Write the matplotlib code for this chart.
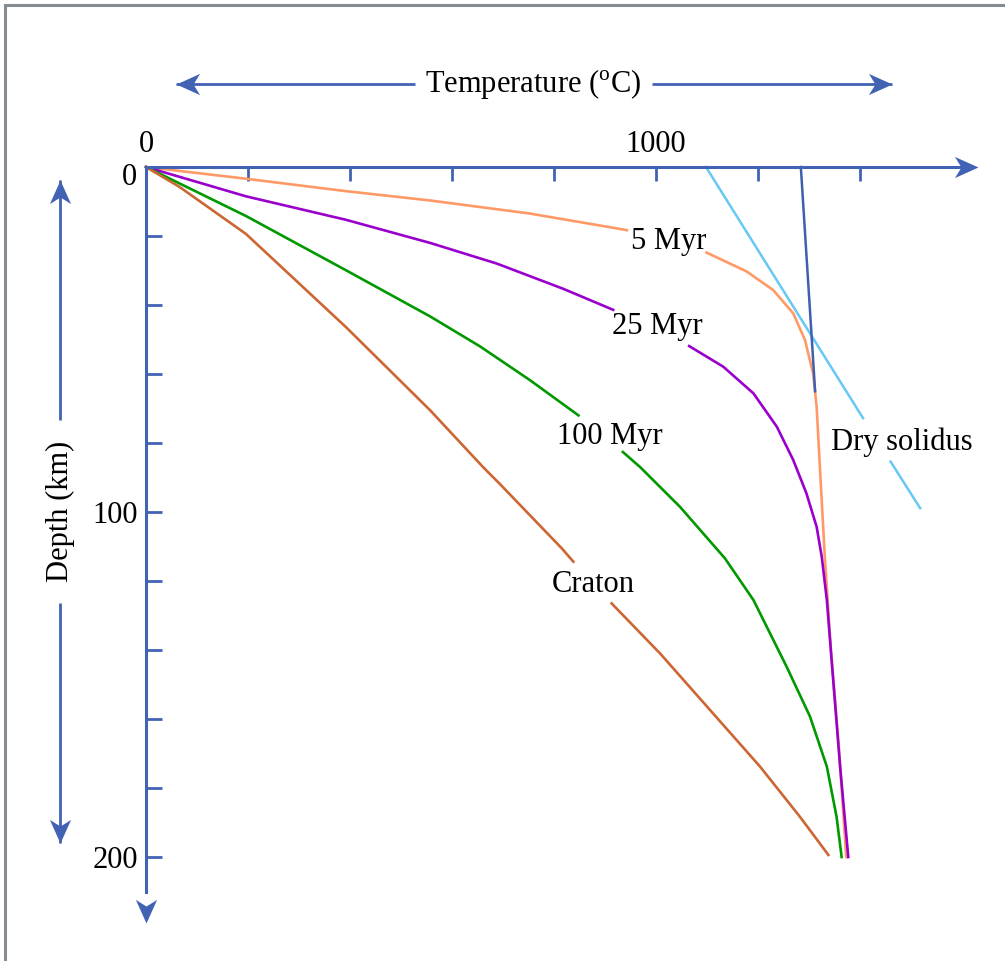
import numpy as np
import matplotlib
matplotlib.use("Agg")
import matplotlib.pyplot as plt
from matplotlib.path import Path
from matplotlib.patches import Rectangle

plt.rcParams['font.family'] = ['Liberation Serif', 'DejaVu Serif']
plt.rcParams['mathtext.fontset'] = 'custom'
plt.rcParams['mathtext.rm'] = 'Liberation Serif'

# Geotherms: temperature (C) vs depth (km).
# nan marks where the line is broken for its label.
t_5myr = [0, 196, 392, 557, 753, 943, np.nan, 1099, 1145, 1178, 1230, 1269, 1292,
          1308, 1315, 1322, 1331, 1343, 1359, 1373]
d_5myr = [0, 3.4, 7.0, 9.7, 13.5, 18.3, np.nan, 24.8, 28.0, 30.3, 35.7, 42.4, 50.1,
          59.8, 69.5, 88.8, 113, 140, 169, 200]

t_25myr = [0, 196, 392, 557, 688, 818, 916, np.nan, 1065, 1132, 1191, 1237, 1269,
           1295, 1315, 1325, 1335, 1348, 1361, 1377]
d_25myr = [0, 8.5, 15.3, 22.0, 28.0, 35.3, 41.4, np.nan, 51.9, 57.9, 65.6, 75.3, 84.9,
           94.6, 104.3, 113, 125.5, 149.7, 173.8, 200]

t_100myr = [0, 196, 393, 557, 655, 753, 848, np.nan, 935, 969, 1047, 1135, 1191,
            1256, 1302, 1335, 1354, 1364]
d_100myr = [0, 14.2, 30.0, 43.3, 52.0, 61.8, 72.0, np.nan, 82.6, 87.0, 98.5, 113.4,
            125.5, 144.8, 159.3, 173.8, 188.3, 200]

t_craton = [0, 65, 196, 392, 557, 661, 694, 815, 838, np.nan, 913, 1008, 1106, 1204,
            1282, 1338]
d_craton = [0, 5.7, 19.4, 46.4, 70.5, 87.0, 91.9, 110.5, 114.4, np.nan, 126.5, 141.0,
            157.4, 173.8, 188.3, 199.4]

t_solidus = [1098, 1406, np.nan, 1460, 1518]
d_solidus = [0, 72.8, np.nan, 85.4, 98.9]

t_adiabat = [1284, 1312]
d_adiabat = [0, 65.0]

x_ticks = [0, 200, 400, 600, 800, 1000, 1200, 1400]
x_labels = ['0', '', '', '', '', '1000', '', '']
y_ticks = [20, 40, 60, 80, 100, 120, 140, 160, 180, 200]
y_labels = ['', '', '', '', '100', '', '', '', '', '200']

curves = [
    (t_5myr, d_5myr, '#FF9966', '5 Myr', (1025, 23.9)),
    (t_25myr, d_25myr, '#9900CC', '25 Myr', (1003, 48.4)),
    (t_100myr, d_100myr, '#009900', '100 Myr', (910, 80.3)),
    (t_craton, d_craton, '#CC6633', 'Craton', (876, 123.2)),
]

AXIS_BLUE = '#4262B3'
FS = 22
W, H = 1005, 961
X0, Y0 = 146, 167            # pixel position of the (0, 0) corner
PX_C, PX_KM = 0.51, 3.45     # pixels per degree, pixels per km


def head(angle):
    """Concave arrow head pointing along angle (degrees), tip at the origin."""
    v = np.array([[0, 0], [-1, 0.45], [-0.72, 0], [-1, -0.45], [0, 0]])
    a = np.radians(angle)
    c, s = np.cos(a), np.sin(a)
    v = v @ np.array([[c, s], [-s, c]])
    return Path(v, [Path.MOVETO, Path.LINETO, Path.LINETO, Path.LINETO, Path.CLOSEPOLY])


def arrow(ax, x, y, angle):
    ax.plot(x, y, color=AXIS_BLUE, lw=2.0, solid_capstyle='butt')
    ax.plot(x[-1], y[-1], marker=head(angle), ms=34, color=AXIS_BLUE,
            markeredgewidth=0, linestyle='none')


fig = plt.figure(figsize=(W / 100, H / 100), dpi=100)
ax = fig.add_axes([0, 0, 1, 1])
ax.set_xlim(-X0 / PX_C, (W - X0) / PX_C)
ax.set_ylim((H - Y0) / PX_KM, -Y0 / PX_KM)

# outer frame, only the left and top edges show
fig.patches.append(Rectangle((5.3 / W, -0.5), 2, 1.5 - 5.3 / H, transform=fig.transFigure,
                             fill=False, edgecolor='#858C93', lw=2.2))

# axes through the origin
for side in ['right', 'bottom']:
    ax.spines[side].set_visible(False)
ax.spines['top'].set_position(('data', 0))
ax.spines['left'].set_position(('data', 0))
ax.spines['top'].set_bounds(0, 1620)
ax.spines['left'].set_bounds(0, 210)
for side in ['top', 'left']:
    ax.spines[side].set_color(AXIS_BLUE)
    ax.spines[side].set_linewidth(2.2)
ax.xaxis.set_ticks_position('top')
ax.yaxis.set_ticks_position('left')
ax.set_xticks(x_ticks, x_labels)
ax.set_yticks(y_ticks, y_labels)
ax.tick_params(axis='x', direction='in', length=10, width=2, color=AXIS_BLUE,
               labelsize=FS, pad=6)
ax.tick_params(axis='y', direction='in', length=11.5, width=2, color=AXIS_BLUE,
               labelsize=FS, pad=6)
ax.text(-18, 5.2, '0', fontsize=FS, ha='right', va='baseline')

ax.plot(1631, 0, marker=head(0), ms=34, color=AXIS_BLUE, mew=0, ls='none')
ax.plot(0, 219, marker=head(-90), ms=34, color=AXIS_BLUE, mew=0, ls='none')

# axis titles with their double arrows
ax.text(759, -21.7, 'Temperature ($^{\\mathrm{o}}$C)', fontsize=FS, ha='center',
        va='baseline')
arrow(ax, [527, 58.8], [-24.1, -24.1], 180)
arrow(ax, [992, 1463], [-24.1, -24.1], 0)
ax.text(-167, 99.7, 'Depth (km)', fontsize=FS, rotation=90, ha='center', va='center')
arrow(ax, [-168, -168], [73.3, 3.8], 90)
arrow(ax, [-168, -168], [126.4, 196], -90)

# geotherms
for t, d, color, label, (lx, ly) in curves:
    ax.plot(t, d, color=color, lw=1.9, solid_joinstyle='round')
    ax.text(lx, ly, label, fontsize=FS, ha='center', va='baseline')

ax.plot(t_solidus, d_solidus, color='#66C8F5', lw=1.8)
ax.text(1482, 82, 'Dry solidus', fontsize=FS, ha='center', va='baseline')
ax.plot(t_adiabat, d_adiabat, color='#3F5FB0', lw=1.8)

fig.savefig('out.png', dpi=100)
